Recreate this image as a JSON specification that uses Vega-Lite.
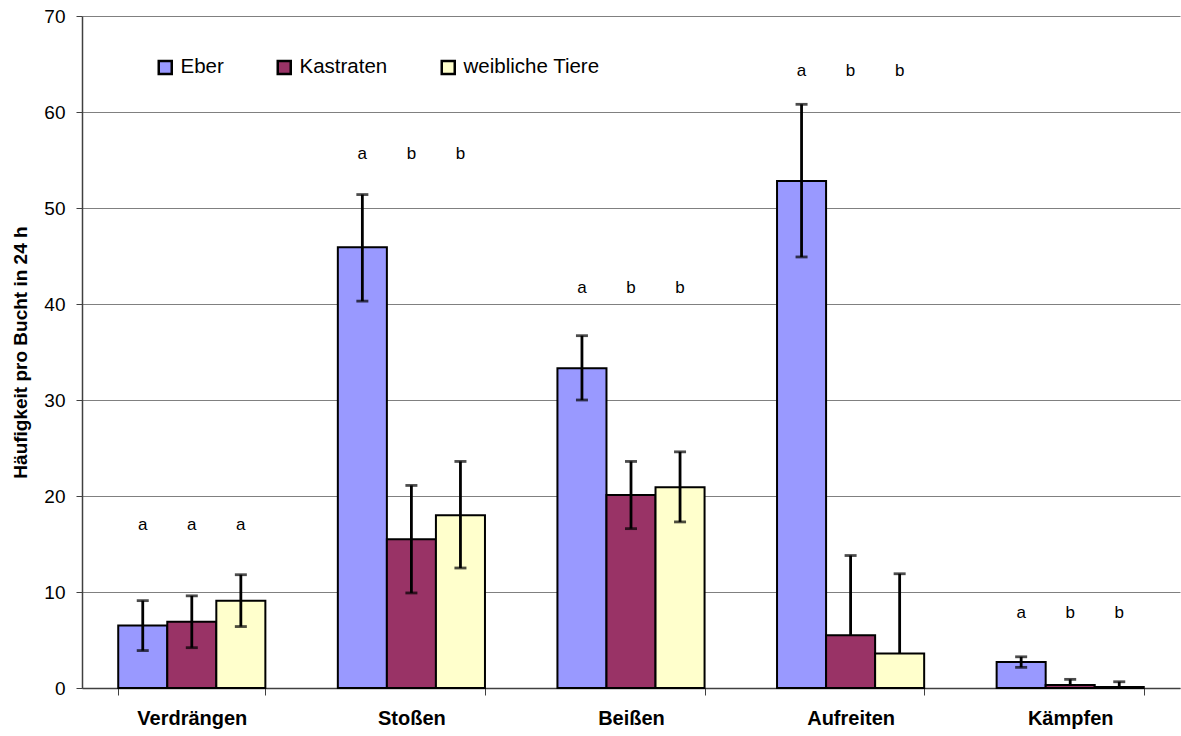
{
  "$schema": "https://vega.github.io/schema/vega-lite/v6.json",
  "width": 1098,
  "height": 672,
  "autosize": {"type": "none"},
  "padding": {"left": 82, "top": 16, "right": 1, "bottom": 48},
  "background": "white",
  "config": {
    "font": "Liberation Sans",
    "view": {"stroke": null},
    "axis": {"labelFont": "Liberation Sans", "titleFont": "Liberation Sans"}
  },
  "data": {
    "values": [
      {"cat": "Verdrängen", "group": "Eber", "value": 6.5, "lo": 3.9, "hi": 9.1, "letter": "a", "ly": 17.0},
      {"cat": "Verdrängen", "group": "Kastraten", "value": 6.9, "lo": 4.2, "hi": 9.6, "letter": "a", "ly": 17.0},
      {"cat": "Verdrängen", "group": "weibliche Tiere", "value": 9.1, "lo": 6.4, "hi": 11.8, "letter": "a", "ly": 17.0},
      {"cat": "Stoßen", "group": "Eber", "value": 45.9, "lo": 40.3, "hi": 51.4, "letter": "a", "ly": 55.6},
      {"cat": "Stoßen", "group": "Kastraten", "value": 15.5, "lo": 9.9, "hi": 21.1, "letter": "b", "ly": 55.6},
      {"cat": "Stoßen", "group": "weibliche Tiere", "value": 18.0, "lo": 12.5, "hi": 23.6, "letter": "b", "ly": 55.6},
      {"cat": "Beißen", "group": "Eber", "value": 33.3, "lo": 30.0, "hi": 36.7, "letter": "a", "ly": 41.7},
      {"cat": "Beißen", "group": "Kastraten", "value": 20.1, "lo": 16.6, "hi": 23.6, "letter": "b", "ly": 41.7},
      {"cat": "Beißen", "group": "weibliche Tiere", "value": 20.9, "lo": 17.3, "hi": 24.6, "letter": "b", "ly": 41.7},
      {"cat": "Aufreiten", "group": "Eber", "value": 52.8, "lo": 44.9, "hi": 60.8, "letter": "a", "ly": 64.3},
      {"cat": "Aufreiten", "group": "Kastraten", "value": 5.5, "lo": 5.5, "hi": 13.8, "letter": "b", "ly": 64.3},
      {"cat": "Aufreiten", "group": "weibliche Tiere", "value": 3.6, "lo": 3.6, "hi": 11.9, "letter": "b", "ly": 64.3},
      {"cat": "Kämpfen", "group": "Eber", "value": 2.7, "lo": 2.15, "hi": 3.25, "letter": "a", "ly": 7.8},
      {"cat": "Kämpfen", "group": "Kastraten", "value": 0.3, "lo": 0.3, "hi": 0.9, "letter": "b", "ly": 7.8},
      {"cat": "Kämpfen", "group": "weibliche Tiere", "value": 0.1, "lo": 0.1, "hi": 0.65, "letter": "b", "ly": 7.8}
    ]
  },
  "encoding": {
    "x": {
      "field": "cat",
      "type": "nominal",
      "sort": ["Verdrängen", "Stoßen", "Beißen", "Aufreiten", "Kämpfen"],
      "scale": {"paddingInner": 0.33, "paddingOuter": 0.165},
      "axis": {
        "title": null,
        "labelAngle": 0,
        "labelFont": "Liberation Sans",
        "labelFontWeight": "bold",
        "labelFontSize": 20,
        "labelColor": "black",
        "labelPadding": 13,
        "tickBand": "extent",
        "tickSize": 7,
        "tickColor": "#404040",
        "domainColor": "#404040",
        "domainWidth": 1.5,
        "grid": false
      }
    },
    "xOffset": {
      "field": "group",
      "type": "nominal",
      "sort": ["Eber", "Kastraten", "weibliche Tiere"],
      "scale": {"paddingInner": 0, "paddingOuter": 0}
    }
  },
  "layer": [
    {
      "mark": {"type": "bar", "stroke": "black", "strokeWidth": 2},
      "encoding": {
        "y": {
          "field": "value",
          "type": "quantitative",
          "scale": {"domain": [0, 70], "nice": false},
          "axis": {
            "title": "Häufigkeit pro Bucht in 24 h",
            "titleFont": "Liberation Sans",
            "titleFontWeight": "bold",
            "titleFontSize": 19,
            "titleColor": "black",
            "titlePadding": 13,
            "values": [0, 10, 20, 30, 40, 50, 60, 70],
            "labelFontSize": 19,
            "labelColor": "black",
            "labelPadding": 11,
            "tickSize": 6,
            "tickColor": "#404040",
            "domainColor": "#404040",
            "domainWidth": 1.5,
            "grid": true,
            "gridColor": "#808080",
            "gridWidth": 1.2
          }
        },
        "fill": {
          "field": "group",
          "type": "nominal",
          "sort": ["Eber", "Kastraten", "weibliche Tiere"],
          "scale": {
            "domain": ["Eber", "Kastraten", "weibliche Tiere"],
            "range": ["#9999FF", "#993366", "#FFFFCC"]
          },
          "legend": {
            "title": null,
            "orient": "none",
            "direction": "horizontal",
            "legendX": 73,
            "legendY": 41,
            "padding": 0,
            "symbolType": "square",
            "symbolSize": 169,
            "symbolStrokeColor": "black",
            "symbolStrokeWidth": 2.5,
            "labelFont": "Liberation Sans",
            "labelFontSize": 20.5,
            "labelColor": "black",
            "labelOffset": 5,
            "columnPadding": 48
          }
        }
      }
    },
    {
      "mark": {"type": "rule", "stroke": "black", "strokeWidth": 2.8},
      "encoding": {
        "y": {"field": "hi", "type": "quantitative"},
        "y2": {"field": "lo"}
      }
    },
    {
      "mark": {"type": "tick", "color": "black", "thickness": 2.8, "size": 12, "orient": "horizontal"},
      "encoding": {
        "y": {"field": "hi", "type": "quantitative"}
      }
    },
    {
      "transform": [{"filter": "datum.lo < datum.value"}],
      "mark": {"type": "tick", "color": "black", "thickness": 2.8, "size": 12, "orient": "horizontal"},
      "encoding": {
        "y": {"field": "lo", "type": "quantitative"}
      }
    },
    {
      "mark": {"type": "text", "font": "Liberation Sans", "fontSize": 17, "color": "black", "baseline": "middle", "align": "center"},
      "encoding": {
        "y": {"field": "ly", "type": "quantitative"},
        "text": {"field": "letter"}
      }
    }
  ]
}
